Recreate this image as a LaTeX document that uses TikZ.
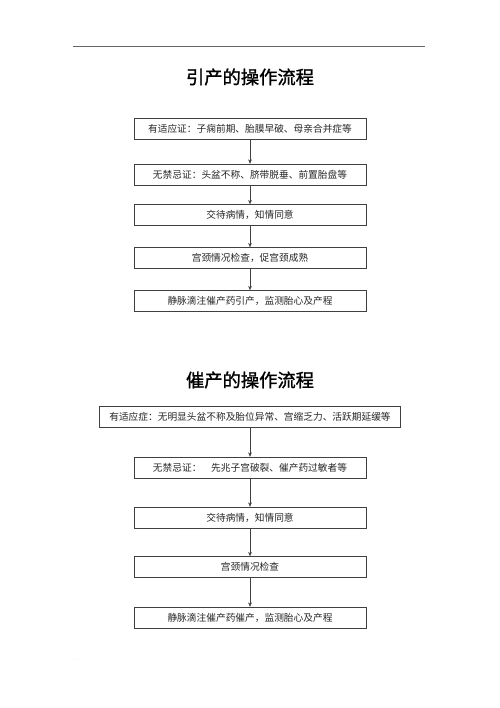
\documentclass[tikz,border=0pt]{standalone}
\usepackage{fontspec}
\newfontfamily\cjk{Noto Sans CJK SC}
\newfontfamily\cjktitle[FakeBold=1.2]{Noto Sans CJK SC}
\usetikzlibrary{arrows.meta}

\tikzset{
  box/.style={draw=black!75, line width=0.6pt, minimum width=116mm, minimum height=10.5mm,
    inner sep=0pt, font=\cjk\fontsize{13.8pt}{14pt}\selectfont, text=black!85},
  widebox/.style={box, minimum width=150.5mm},
  flow/.style={draw=black!75, line width=0.6pt, -{Stealth[length=2.2mm,width=1.8mm]}},
  heading/.style={font=\cjktitle\fontsize{26pt}{28pt}\selectfont, text=black},
}

\begin{document}
\begin{tikzpicture}[x=0.5mm, y=-0.5mm]
  \useasboundingbox (0,0) rectangle (500,708);

  % page header
  \coordinate (hl) at (73,46);
  \coordinate (hr) at (425,46);
  \draw[black!60, line width=0.5pt] (hl) -- (hr);
  \node[text=black!40, font=\tiny] at (424,42) (hdot) {.};
  \node[text=black!40, font=\tiny] at (78,660) (fdot) {: .};

  % first flow
  \node[heading] at (250,77) (title1) {引产的操作流程};
  \node[box] at (250,129) (a1) {有适应证：子痫前期、胎膜早破、母亲合并症等};
  \node[box] at (250,174.5) (a2) {无禁忌证：头盆不称、脐带脱垂、前置胎盘等};
  \node[box] at (250,215) (a3) {交待病情，知情同意};
  \node[box] at (250,258) (a4) {宫颈情况检查，促宫颈成熟};
  \node[box] at (250,301) (a5) {静脉滴注催产药引产，监测胎心及产程};

  \foreach \i/\j in {a1/a2, a2/a3, a3/a4, a4/a5}
    \draw[flow] (\i) -- (\j);

  % second flow
  \node[heading] at (250,380) (title2) {催产的操作流程};
  \node[widebox] at (250,417) (b1) {有适应症：无明显头盆不称及胎位异常、宫缩乏力、活跃期延缓等};
  \node[box] at (250,467.5) (b2) {无禁忌证：\hspace{1em}先兆子宫破裂、催产药过敏者等};
  \node[box] at (250,517.5) (b3) {交待病情，知情同意};
  \node[box] at (250,567) (b4) {宫颈情况检查};
  \node[box] at (250,617.5) (b5) {静脉滴注催产药催产，监测胎心及产程};

  \foreach \i/\j in {b1/b2, b2/b3, b3/b4, b4/b5}
    \draw[flow] (\i) -- (\j);

\end{tikzpicture}
\end{document}
